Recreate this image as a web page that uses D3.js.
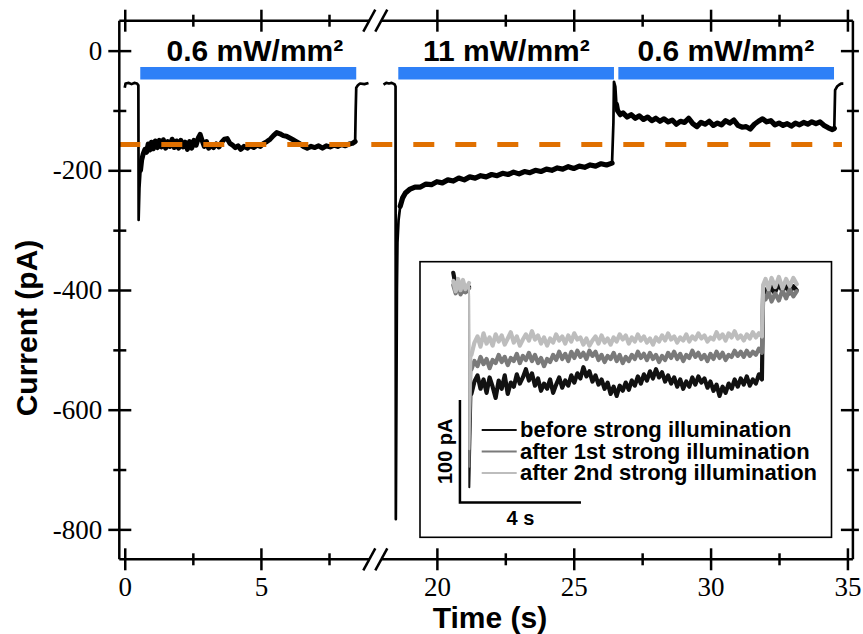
<!DOCTYPE html>
<html>
<head>
<meta charset="utf-8">
<script src="https://cdn.jsdelivr.net/npm/d3@7"></script>
<style>
body { margin: 0; background: #fff; }
</style>
</head>
<body>
<div id="chart"></div>
<script>

// ---- data ----
var yTicks = [0, -200, -400, -600, -800];
var yMinor = [-100, -300, -500, -700];
var xTicksLeft = [0, 5], xMinorLeft = [2.5, 7.5];
var xTicksRight = [20, 25, 30, 35], xMinorRight = [22.5, 27.5, 32.5];

var pulseSeg = ["L", "R", "R"];
var pulseStart = [0.57, 18.59, 26.63];
var pulseEnd = [8.5, 26.47, 34.51];
var pulseLabels = ["0.6 mW/mm²", "11 mW/mm²", "0.6 mW/mm²"];
var labelT = [4.78, 22.54, 30.56];
var refLevel = -157;
var refSpan = [-0.2, 34.8];

// first recording (0.6 mW/mm², left of the axis break) [t (s), I (pA)]
var seg1 = [[0.0,-62],[0.03,-55],[0.15,-54],[0.25,-56],[0.35,-54],[0.45,-55],[0.5,-58],[0.51,-283],
  [0.54,-230],[0.58,-200],[0.62,-183],[0.68,-172],[0.74,-165],[0.8,-170],[0.86,-156],[0.92,-166],
  [0.98,-153],[1.05,-164],[1.12,-151],[1.2,-162],[1.27,-150],[1.35,-161],[1.42,-149],[1.5,-163],
  [1.58,-152],[1.66,-160],[1.74,-148],[1.82,-162],[1.9,-151],[1.98,-163],[2.06,-150],[2.14,-161],
  [2.22,-153],[2.3,-165],[2.38,-152],[2.46,-163],[2.54,-150],[2.62,-158],[2.7,-146],[2.77,-140],
  [2.84,-150],[2.92,-160],[3.0,-152],[3.08,-163],[3.16,-158],[3.26,-162],[3.36,-156],[3.46,-161],
  [3.56,-153],[3.66,-148],[3.76,-147],[3.86,-155],[3.96,-158],[4.06,-162],[4.16,-159],[4.26,-165],
  [4.38,-160],[4.5,-163],[4.62,-159],[4.74,-162],[4.86,-158],[4.98,-160],[5.1,-155],[5.22,-152],
  [5.34,-148],[5.46,-142],[5.58,-137],[5.7,-139],[5.82,-142],[5.94,-143],[6.06,-146],[6.18,-149],
  [6.3,-152],[6.44,-156],[6.56,-160],[6.7,-163],[6.84,-160],[6.98,-162],[7.12,-159],[7.26,-163],
  [7.4,-159],[7.54,-161],[7.68,-158],[7.82,-160],[7.96,-157],[8.1,-159],[8.24,-156],[8.36,-155],
  [8.46,-152],[8.48,-100],[8.5,-62],[8.56,-58],[8.64,-55],[8.8,-56],[8.95,-54]];

// second recording (11 mW/mm² then 0.6 mW/mm², right of the break)
var seg2 = [[18.05,-57],[18.15,-54],[18.25,-55],[18.35,-54],[18.45,-56],[18.49,-60],[18.5,-783],
  [18.52,-600],[18.54,-400],[18.56,-320],[18.6,-283],[18.66,-260],[18.75,-246],[18.85,-238],
  [19.0,-232],[19.2,-228],[19.4,-228],[19.6,-223],[19.8,-224],[20.0,-219],[20.2,-221],[20.4,-216],
  [20.6,-218],[20.8,-213],[21.0,-216],[21.2,-211],[21.4,-213],[21.6,-209],[21.8,-211],[22.0,-207],
  [22.2,-209],[22.4,-205],[22.6,-207],[22.8,-203],[23.0,-206],[23.2,-202],[23.4,-204],[23.6,-200],
  [23.8,-202],[24.0,-198],[24.2,-200],[24.4,-196],[24.6,-198],[24.8,-194],[25.0,-197],[25.2,-193],
  [25.4,-195],[25.6,-191],[25.8,-193],[26.0,-189],[26.2,-191],[26.4,-188],[26.45,-120],[26.47,-52],
  [26.52,-60],[26.56,-90],[26.6,-100],[26.7,-107],[26.8,-104],[26.95,-111],[27.1,-107],[27.25,-113],
  [27.4,-109],[27.55,-115],[27.7,-111],[27.85,-117],[28.0,-113],[28.15,-118],[28.3,-114],[28.45,-119],
  [28.6,-116],[28.75,-123],[28.9,-118],[29.05,-120],[29.2,-113],[29.35,-122],[29.5,-127],[29.65,-120],
  [29.8,-123],[29.95,-118],[30.1,-125],[30.25,-121],[30.4,-124],[30.55,-117],[30.7,-121],[30.85,-116],
  [31.0,-125],[31.15,-128],[31.3,-127],[31.45,-131],[31.6,-123],[31.75,-118],[31.9,-114],[32.05,-119],
  [32.2,-117],[32.35,-124],[32.5,-121],[32.65,-125],[32.8,-122],[32.95,-126],[33.1,-121],[33.25,-124],
  [33.4,-120],[33.55,-123],[33.7,-119],[33.85,-122],[34.0,-119],[34.15,-125],[34.3,-129],[34.45,-132],
  [34.52,-130],[34.55,-66],[34.62,-60],[34.7,-57],[34.78,-55],[34.85,-55]];

// stretches of the traces that are noisy (drawn as a thicker band)
var plateaus1 = [[0.56, 8.46]];
var plateaus2 = [[18.62, 26.42], [26.56, 34.52]];
var plateausInset = [[0.0, 0.52], [0.6, 11.35]];

// inset: three 0.6 mW/mm² responses
var insetNames = ["before strong illumination", "after 1st strong illumination", "after 2nd strong illumination"];
var insetT = [0.6,0.7,0.8,0.9,1.0,1.1,1.2,1.3,1.4,1.5,
  1.6,1.7,1.8,1.9,2.0,2.1,2.2,2.3,2.4,2.5,
  2.6,2.7,2.8,2.9,3.0,3.1,3.2,3.3,3.4,3.5,
  3.6,3.7,3.8,3.9,4.0,4.1,4.2,4.3,4.4,4.5,
  4.6,4.7,4.8,4.9,5.0,5.1,5.2,5.3,5.4,5.5,
  5.6,5.7,5.8,5.9,6.0,6.1,6.2,6.3,6.4,6.5,
  6.6,6.7,6.8,6.9,7.0,7.1,7.2,7.3,7.4,7.5,
  7.6,7.7,7.8,7.9,8.0,8.1,8.2,8.3,8.4,8.5,
  8.6,8.7,8.8,8.9,9.0,9.1,9.2,9.3,9.4,9.5,
  9.6,9.7,9.8,9.9,10.0,10.1,10.2];
var insetBefore = [-104,-92,-86,-99,-90,-103,-88,-97,-108,-91,
  -99,-86,-104,-93,-97,-85,-94,-88,-80,-91,
  -84,-96,-89,-101,-94,-99,-90,-103,-95,-88,
  -98,-91,-96,-86,-93,-84,-89,-78,-87,-82,
  -92,-86,-95,-90,-99,-93,-104,-97,-106,-96,
  -101,-93,-100,-91,-96,-87,-94,-85,-91,-82,
  -89,-80,-88,-83,-92,-86,-94,-88,-97,-90,
  -99,-92,-97,-88,-95,-87,-93,-89,-98,-92,
  -101,-95,-106,-97,-103,-94,-99,-90,-97,-89,
  -95,-87,-96,-90,-94,-85,-90];
var insetAfter1 = [-80,-72,-77,-68,-75,-70,-79,-71,-74,-66,
  -73,-68,-76,-69,-72,-65,-74,-67,-71,-64,
  -72,-66,-74,-69,-77,-70,-73,-66,-71,-63,
  -70,-65,-72,-63,-69,-62,-68,-64,-70,-62,
  -67,-63,-71,-66,-73,-67,-70,-64,-72,-66,
  -74,-68,-72,-66,-70,-63,-69,-65,-71,-64,
  -70,-66,-73,-67,-71,-64,-69,-63,-70,-65,
  -72,-66,-69,-62,-68,-64,-70,-66,-72,-65,
  -70,-63,-69,-64,-71,-66,-68,-62,-67,-63,
  -68,-62,-67,-63,-66,-60,-64];
var insetAfter2 = [-66,-54,-48,-58,-45,-55,-49,-57,-46,-53,
  -47,-56,-50,-44,-54,-48,-57,-51,-46,-52,
  -43,-51,-47,-55,-49,-57,-50,-54,-46,-52,
  -48,-55,-47,-53,-45,-51,-49,-56,-50,-57,
  -52,-48,-55,-47,-54,-50,-56,-49,-53,-46,
  -51,-47,-55,-49,-53,-46,-52,-48,-54,-50,
  -56,-49,-53,-47,-52,-45,-51,-48,-54,-49,
  -52,-46,-53,-48,-51,-45,-50,-47,-53,-49,
  -51,-44,-50,-46,-52,-45,-49,-43,-50,-47,
  -52,-46,-50,-44,-49,-45,-48];
var insetPre = [
  [[0.0,14],[0.05,6],[0.12,-3],[0.2,4],[0.28,-5],[0.36,2],[0.44,-4],[0.52,0]],
  [[0.0,2],[0.08,-6],[0.16,3],[0.24,-7],[0.32,1],[0.4,-5],[0.52,-1]],
  [[0.0,6],[0.08,-4],[0.16,8],[0.24,-3],[0.32,7],[0.4,-2],[0.52,4]]];
var insetPeak = [-195, -175, -158];
var insetPost = [
  [[10.24,-5],[10.3,-2],[10.4,-9],[10.5,1],[10.62,-6],[10.75,3],[10.88,-4],[11.0,2],[11.12,-6],[11.24,1],[11.35,-3]],
  [[10.24,-8],[10.32,-12],[10.42,-4],[10.52,-14],[10.64,-6],[10.76,-13],[10.88,-3],[11.0,-11],[11.12,-2],[11.24,-9],[11.35,-4]],
  [[10.24,2],[10.32,8],[10.42,-2],[10.52,9],[10.64,0],[10.76,10],[10.88,-1],[11.0,8],[11.12,1],[11.24,9],[11.35,3]]];
var insetColors = ["#111111", "#7a7a7a", "#bdbdbd"];
var scaleBarPA = 100, scaleBarS = 4;

// ---- layout ----
var W = 863, H = 634;
var plotL = 119.3, plotR = 852.9, plotT = 20.7, plotB = 559.3, breakX = 375.3;
var SANS = "'Liberation Sans', Arial, Helvetica, sans-serif";
var SERIF = "'Times New Roman', 'Liberation Serif', 'DejaVu Serif', serif";

var svg = d3.select("#chart").append("svg")
  .attr("width", W).attr("height", H)
  .style("display", "block");

var xL = d3.scaleLinear().domain([-0.2, 9.2]).range([plotL, breakX]);
var xR = d3.scaleLinear().domain([17.75, 35.2]).range([breakX, plotR]);
var y = d3.scaleLinear().domain([-850, 50]).range([plotB, plotT]);
function xs(seg) { return seg === "L" ? xL : xR; }

function inRanges(t, ranges) {
  return ranges.some(function(r){ return t >= r[0] && t <= r[1]; });
}

// draws a trace thin everywhere and thicker over the noisy stretches
function trace(g, pts, sx, sy, ranges, color, thin, thickW) {
  var base = d3.line().x(function(d){ return sx(d[0]); }).y(function(d){ return sy(d[1]); });
  var thick = d3.line().defined(function(d){ return inRanges(d[0], ranges); })
    .x(function(d){ return sx(d[0]); }).y(function(d){ return sy(d[1]); });
  g.append("path").datum(pts).attr("d", base)
    .attr("fill", "none").attr("stroke", color).attr("stroke-width", thin)
    .attr("stroke-linejoin", "round");
  g.append("path").datum(pts).attr("d", thick)
    .attr("fill", "none").attr("stroke", color).attr("stroke-width", thickW)
    .attr("stroke-linejoin", "round").attr("stroke-linecap", "round");
}

trace(svg, seg1, xL, y, plateaus1, "#000", 2.7, 5);
trace(svg, seg2, xR, y, plateaus2, "#000", 2.7, 5.2);

svg.append("line")
  .attr("x1", xL(refSpan[0])).attr("x2", xR(refSpan[1]))
  .attr("y1", y(refLevel)).attr("y2", y(refLevel))
  .attr("stroke", "#e07000").attr("stroke-width", 5)
  .attr("stroke-dasharray", "21,21");

// light pulses
pulseStart.forEach(function(t0, i) {
  var sx = xs(pulseSeg[i]);
  svg.append("rect")
    .attr("x", sx(t0)).attr("width", sx(pulseEnd[i]) - sx(t0))
    .attr("y", 67).attr("height", 12.5)
    .attr("fill", "#2e80f7");
  svg.append("text")
    .attr("x", sx(labelT[i])).attr("y", 61)
    .attr("text-anchor", "middle")
    .style("font-family", SANS).style("font-weight", "bold").style("font-size", "30px")
    .text(pulseLabels[i]);
});

// ---- axes ----
function cross(g, a, attr1) {
  g.select(".domain").remove();
  g.attr("font-family", null).attr("font-size", null);
  g.selectAll(".tick line").attr(attr1, a).attr("stroke-width", 2.5);
}
function fmt(d) { return String(d); }
function serifText(g) {
  g.selectAll("text")
    .attr("font-family", SERIF).style("font-family", SERIF)
    .style("font-size", "27px").style("font-weight", "normal").attr("fill", "#000");
}

var gB = svg.append("g").attr("transform", "translate(0," + plotB + ")");
[[xL, xTicksLeft, xMinorLeft], [xR, xTicksRight, xMinorRight]].forEach(function(p) {
  gB.append("g").call(d3.axisBottom(p[0]).tickValues(p[1]).tickSize(11).tickPadding(7).tickFormat(fmt))
    .call(function(g){ cross(g, -11, "y1"); })
    .call(serifText);
  gB.append("g").call(d3.axisBottom(p[0]).tickValues(p[2]).tickSize(6).tickFormat(""))
    .call(function(g){ cross(g, -6, "y1"); });
});

var gT = svg.append("g").attr("transform", "translate(0," + plotT + ")");
[[xL, xTicksLeft, xMinorLeft], [xR, xTicksRight, xMinorRight]].forEach(function(p) {
  gT.append("g").call(d3.axisTop(p[0]).tickValues(p[1]).tickSize(11).tickFormat(""))
    .call(function(g){ cross(g, 11, "y1"); });
  gT.append("g").call(d3.axisTop(p[0]).tickValues(p[2]).tickSize(6).tickFormat(""))
    .call(function(g){ cross(g, 6, "y1"); });
});

var gL = svg.append("g").attr("transform", "translate(" + plotL + ",0)");
gL.append("g").call(d3.axisLeft(y).tickValues(yTicks).tickSize(11).tickPadding(6).tickFormat(fmt))
  .call(function(g){ cross(g, 12, "x1"); })
  .call(serifText);
gL.append("g").call(d3.axisLeft(y).tickValues(yMinor).tickSize(6).tickFormat(""))
  .call(function(g){ cross(g, 7, "x1"); });

var gR = svg.append("g").attr("transform", "translate(" + plotR + ",0)");
gR.append("g").call(d3.axisRight(y).tickValues(yTicks).tickSize(6).tickFormat(""))
  .call(function(g){ cross(g, -12, "x1"); });
gR.append("g").call(d3.axisRight(y).tickValues(yMinor).tickSize(6).tickFormat(""))
  .call(function(g){ cross(g, -6, "x1"); });

// frame with axis break
var frame = svg.append("g").attr("stroke", "#000").attr("stroke-width", 2.5).attr("fill", "none");
frame.append("path").attr("d", "M" + plotL + "," + plotT + "V" + plotB);
frame.append("path").attr("d", "M" + plotR + "," + plotT + "V" + plotB);
[plotT, plotB].forEach(function(ay) {
  frame.append("path").attr("d", "M" + plotL + "," + ay + "H" + (breakX - 6));
  frame.append("path").attr("d", "M" + (breakX + 6) + "," + ay + "H" + plotR);
  [-6, 6].forEach(function(o) {
    var cx = breakX + o;
    frame.append("path").attr("d", "M" + (cx - 6) + "," + (ay + 11) + "L" + (cx + 6) + "," + (ay - 11));
  });
});

// axis titles
svg.append("text").attr("x", 490).attr("y", 628).attr("text-anchor", "middle")
  .style("font-family", SANS).style("font-weight", "bold").style("font-size", "30px")
  .text("Time (s)");
svg.append("text").attr("transform", "translate(37,328) rotate(-90)").attr("text-anchor", "middle")
  .style("font-family", SANS).style("font-weight", "bold").style("font-size", "30px")
  .text("Current (pA)");

// ---- inset ----
var inset = svg.append("g");
inset.append("rect").attr("x", 420).attr("y", 261.7).attr("width", 411.5).attr("height", 275.6)
  .attr("fill", "#fff").attr("stroke", "#000").attr("stroke-width", 1.6);

var xi = d3.scaleLinear().domain([-1.1, 12.5]).range([420, 831.5]);
var yi = d3.scaleLinear().domain([-244, 25]).range([537.5, 261.5]);

[insetBefore, insetAfter1, insetAfter2].forEach(function(vals, k) {
  var pts = insetPre[k].concat([[0.53, insetPeak[k]]])
    .concat(insetT.map(function(t, i){ return [t, vals[i]]; }))
    .concat(insetPost[k]);
  trace(inset, pts, xi, yi, plateausInset, insetColors[k], 2, 4.2);
});

// scale bars
var sb0 = 0.22, sbLow = -210;
inset.append("path")
  .attr("d", "M" + xi(sb0) + "," + yi(sbLow + scaleBarPA) + "V" + yi(sbLow) + "H" + xi(sb0 + scaleBarS))
  .attr("fill", "none").attr("stroke", "#000").attr("stroke-width", 2.5);
inset.append("text").attr("x", xi(sb0 + scaleBarS / 2)).attr("y", 525).attr("text-anchor", "middle")
  .style("font-family", SANS).style("font-weight", "bold").style("font-size", "20px")
  .text(scaleBarS + " s");
inset.append("text").attr("transform", "translate(452," + yi(sbLow + scaleBarPA / 2) + ") rotate(-90)")
  .attr("text-anchor", "middle")
  .style("font-family", SANS).style("font-weight", "bold").style("font-size", "20px")
  .text(scaleBarPA + " pA");

// legend
insetNames.forEach(function(name, i) {
  var ly = 430 + i * 21.5;
  inset.append("line").attr("x1", 481.7).attr("x2", 516.7).attr("y1", ly).attr("y2", ly)
    .attr("stroke", insetColors[i]).attr("stroke-width", 2);
  inset.append("text").attr("x", 520).attr("y", ly + 7)
    .style("font-family", SANS).style("font-weight", "bold").style("font-size", "22px")
    .text(name);
});

</script>
</body>
</html>
